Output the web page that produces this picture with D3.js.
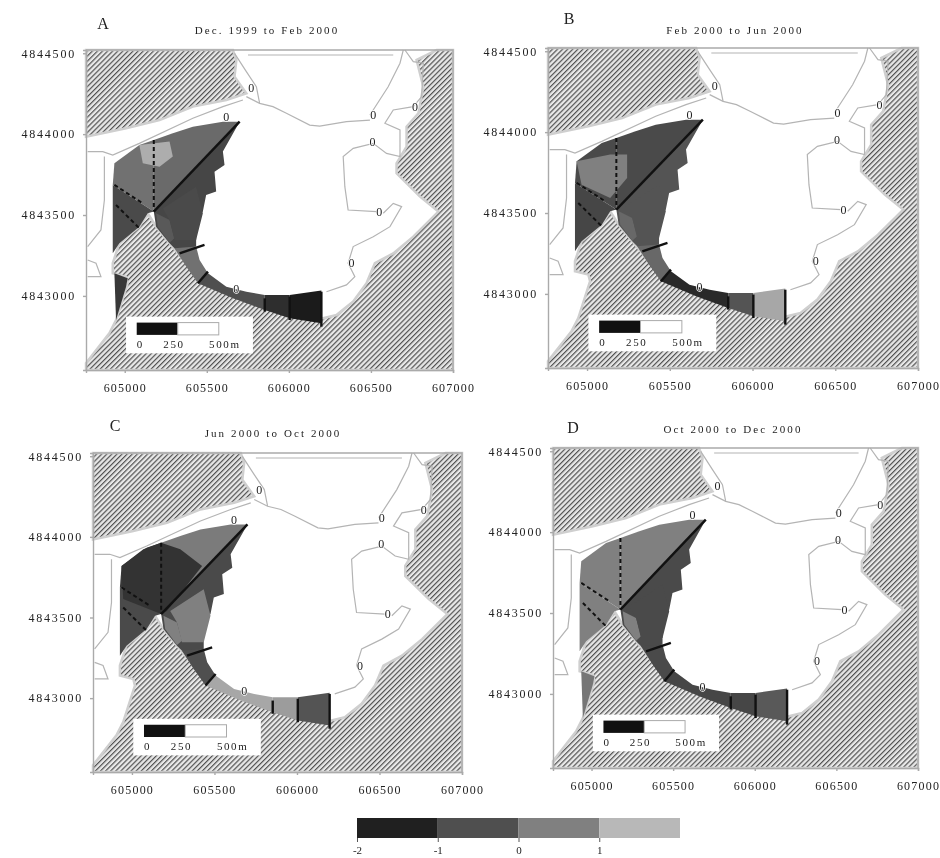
<!DOCTYPE html>
<html>
<head>
<meta charset="utf-8">
<script src="https://d3js.org/d3.v7.min.js"></script>
<style>
  body { margin: 0; background: #fff; }
  svg { display: block; filter: blur(0.6px); }
  text { font-family: "Liberation Serif", serif; fill: #222; }
</style>
</head>
<body>
<div id="chart"></div>
<script>
// UTM easting / northing
var eastingDomain = [604764, 607000];
var northingDomain = [4842542, 4844520];
var xTicks = [605000, 605500, 606000, 606500, 607000];
var yTicks = [4844500, 4844000, 4843500, 4843000];

var panelLetters = ["A", "B", "C", "D"];
var panelTitles = ["Dec. 1999 to Feb 2000", "Feb 2000 to Jun 2000", "Jun 2000 to Oct 2000", "Oct 2000 to Dec 2000"];

// land
var landNorth = [[604764,4844520],[605659,4844520],[605680,4844458],[605669,4844355],[605741,4844252],[605619,4844211],[605415,4844170],[605212,4844087],[605008,4844036],[604764,4843984]];
var landMain = [[607000,4844520],[607000,4842542],[604764,4842542],[604764,4842584],[604906,4842769],[604947,4842851],[605018,4843078],[605008,4843119],[604927,4843140],[604927,4843202],[604967,4843325],[605089,4843428],[605140,4843511],[605191,4843428],[605273,4843325],[605374,4843202],[605496,4843078],[605659,4842996],[605863,4842923],[606005,4842872],[606209,4842862],[606290,4842882],[606392,4842965],[606473,4843078],[606524,4843202],[606636,4843263],[606758,4843366],[606911,4843521],[606799,4843614],[606656,4843758],[606656,4843820],[606717,4843923],[606717,4844046],[606789,4844129],[606819,4844293],[606778,4844458],[606901,4844520]];

// rate-of-change cells
var north = [[605177,4843521],[605177,4843964],[605293,4844005],[605415,4844046],[605598,4844077],[605700,4844077]];
var west = [[605177,4843521],[605177,4843964],[605089,4843933],[604937,4843820],[604927,4843686]];
var southwest = [[604927,4843686],[605177,4843521],[605140,4843511],[605089,4843428],[604967,4843325],[604927,4843263]];
var east = [[605177,4843521],[605700,4844077],[605598,4843892],[605608,4843809],[605547,4843768],[605557,4843645],[605496,4843624],[605476,4843521],[605435,4843480],[605435,4843305],[605323,4843274],[605273,4843325],[605191,4843428]];
var eastWedge = [[605191,4843511],[605273,4843469],[605303,4843356],[605273,4843329],[605201,4843428]];
var eastMid = [[605232,4843541],[605435,4843675],[605476,4843511],[605435,4843346],[605303,4843346],[605273,4843469]];
var arc1 = [[605303,4843294],[605435,4843305],[605456,4843222],[605507,4843140],[605446,4843078],[605374,4843181]];
var arc2 = [[605446,4843078],[605507,4843140],[605619,4843057],[605741,4843026],[605853,4843006],[605853,4842913],[605659,4842985]];
var arc3 = [[605853,4843006],[606005,4843006],[606005,4842862],[605853,4842913]];
var arc4 = [[606005,4843006],[606198,4843033],[606198,4842831],[606005,4842862]];
var isolated = [[604937,4843140],[605018,4843109],[605008,4843057],[604947,4842851]];
var blobA = [[605089,4843933],[605273,4843954],[605293,4843861],[605212,4843799],[605110,4843820]];
var blobB = [[604937,4843820],[605140,4843861],[605242,4843861],[605242,4843717],[605140,4843593],[604967,4843675]];
var blobC = [[605177,4843964],[605293,4843923],[605425,4843820],[605212,4843541],[605177,4843521],[604947,4843614],[604937,4843820],[605069,4843923]];
var cells = [north, west, southwest, east, eastWedge, eastMid, arc1, arc2, arc3, arc4, isolated, blobA, blobB, blobC];

// value of each cell in each period, same order as cells
var valuesA = [0.05, 0.2, -0.6, -0.7, -0.3, -0.6, 0.2, -0.5, -1.2, -1.6, -1, 1.3, null, null];
var valuesB = [-0.6, -0.6, -0.7, -0.4, 0, -0.4, 0, -1.3, -0.4, 1.2, null, null, 0.5, null];
var valuesC = [0.4, -1, -0.6, -0.6, 0.5, 0.5, -0.5, 1.2, 1, -0.4, null, null, null, -1.1];
var valuesD = [0.5, 0.5, 0.5, -0.6, 0.5, -0.6, -0.6, -0.7, -0.7, -0.3, 0.3, null, null, null];

// depth contours
var contours = [
  [[605741,4844232],[605822,4844190],[605903,4844170],[605985,4844129],[606127,4844056],[606188,4844050],[606351,4844077],[606494,4844087]],
  [[606494,4844118],[606605,4844293],[606677,4844438],[606697,4844520]],
  [[606707,4844520],[606758,4844448],[606819,4844438],[606809,4844232],[606758,4844170],[606636,4844149],[606585,4844067],[606677,4844026],[606677,4843861],[606595,4843881],[606514,4843943],[606392,4843912],[606331,4843861],[606341,4843675],[606361,4843531],[606534,4843521]],
  [[606575,4843511],[606636,4843572],[606687,4843552],[606616,4843428],[606514,4843366],[606392,4843305],[606361,4843202],[606402,4843119],[606351,4843068],[606229,4843026]],
  [[604774,4843892],[604866,4843892],[604927,4843871],[605089,4843943],[605415,4844098],[605598,4844170],[605720,4844211]],
  [[604876,4843861],[604876,4843593],[604855,4843408],[604774,4843305]],
  [[604774,4843222],[604825,4843202],[604855,4843119],[604774,4843119]],
  [[605669,4844499],[605741,4844386],[605802,4844293],[605822,4844190]],
  [[605751,4844489],[606636,4844489]]
];
var contourLabelE = [605771, 606514, 606510, 606550, 606382, 606768, 605619, 605680];
var contourLabelN = [4844289, 4844118, 4843954, 4843521, 4843202, 4844170, 4844108, 4843047];

// transects
var solidTransects = [
  [[605177,4843521],[605700,4844077]],
  [[605334,4843263],[605486,4843315]],
  [[605446,4843078],[605507,4843150]],
  [[605853,4842985],[605853,4842903]],
  [[606005,4842996],[606005,4842851]],
  [[606198,4843026],[606198,4842810]]
];
var dashedTransects = [
  [[605177,4843964],[605177,4843521]],
  [[604937,4843686],[605110,4843572]],
  [[604947,4843562],[605089,4843418]]
];

// scale bar
var scaleBarEast = [605073, 605323, 605573];
var scaleBarLabels = ["0", "250", "500m"];
var scaleLabelEast = [605073, 605300, 605610];
var scaleBoxE = [605008, 605781];
var scaleBoxN = [4842872, 4842645];
var scaleBarN = [4842835, 4842759];
var scaleLabelN = 4842680;

// colour bar
var legendEdges = [-2, -1, 0, 1, 2];
var legendMids = [-1.5, -0.5, 0.5, 1.5];
var legendTicks = [-2, -1, 0, 1];

// frames of the four maps on the page
var frames = [
  {l: 86, r: 453, t: 50, b: 370, tx: 267, ty: 34, lx: 103, ly: 29},
  {l: 548, r: 918, t: 48, b: 368, tx: 735, ty: 34, lx: 569, ly: 24},
  {l: 93, r: 462, t: 453, b: 772, tx: 273, ty: 437, lx: 115, ly: 431},
  {l: 553, r: 918, t: 448, b: 768, tx: 733, ty: 433, lx: 573, ly: 433}
];
var panelValues = [valuesA, valuesB, valuesC, valuesD];

var svg = d3.select("#chart").append("svg")
    .attr("width", 940)
    .attr("height", 858);

var color = d3.scaleLinear()
    .domain(legendMids)
    .range(["#202020", "#4f4f4f", "#808080", "#b8b8b8"]);

// hatching for land
var pattern = svg.append("defs").append("pattern")
    .attr("id", "hatch")
    .attr("width", 3.6)
    .attr("height", 3.6)
    .attr("patternUnits", "userSpaceOnUse")
    .attr("patternTransform", "rotate(45)");
pattern.append("rect").attr("width", 3.6).attr("height", 3.6).attr("fill", "#e8e8e8");
pattern.append("rect").attr("width", 1.2).attr("height", 3.6).attr("fill", "#505050");

frames.forEach(function (f, i) {
  var x = d3.scaleLinear().domain(eastingDomain).range([f.l, f.r]);
  var y = d3.scaleLinear().domain(northingDomain).range([f.b, f.t]);
  var line = d3.line().x(function (d) { return x(d[0]); }).y(function (d) { return y(d[1]); });
  var g = svg.append("g");

  // land
  g.selectAll("path.land")
    .data([landNorth, landMain])
    .enter().append("path")
      .attr("class", "land")
      .attr("d", function (d) { return line(d) + "Z"; })
      .attr("fill", "url(#hatch)")
      .attr("stroke", "#cfcfcf")
      .attr("stroke-width", 2.5);

  // contours
  g.selectAll("path.contour")
    .data(contours)
    .enter().append("path")
      .attr("class", "contour")
      .attr("d", line)
      .attr("fill", "none")
      .attr("stroke", "#b4b4b4")
      .attr("stroke-width", 1.2);

  // cells
  var vals = panelValues[i];
  g.selectAll("path.cell")
    .data(cells)
    .enter().filter(function (d, j) { return vals[j] !== null; }).append("path")
      .attr("class", "cell")
      .attr("d", function (d) { return line(d) + "Z"; })
      .attr("fill", function (d) { return color(vals[cells.indexOf(d)]); });

  // transects
  g.selectAll("path.solid")
    .data(solidTransects)
    .enter().append("path")
      .attr("class", "solid")
      .attr("d", line)
      .attr("stroke", "#111")
      .attr("stroke-width", 2.4);
  g.selectAll("path.dashed")
    .data(dashedTransects)
    .enter().append("path")
      .attr("class", "dashed")
      .attr("d", line)
      .attr("stroke", "#111")
      .attr("stroke-width", 2)
      .attr("stroke-dasharray", "4,3");

  // zero labels on contours
  g.selectAll("text.zero")
    .data(contourLabelE)
    .enter().append("text")
      .attr("class", "zero")
      .attr("x", function (d) { return x(d); })
      .attr("y", function (d, j) { return y(contourLabelN[j]); })
      .attr("dy", "0.35em")
      .attr("text-anchor", "middle")
      .style("font-size", "12px")
      .style("paint-order", "stroke")
      .style("stroke", "#fff")
      .style("stroke-width", "1.5px")
      .text("0");

  // scale bar
  g.append("rect")
    .attr("x", x(scaleBoxE[0]))
    .attr("y", y(scaleBoxN[0]))
    .attr("width", x(scaleBoxE[1]) - x(scaleBoxE[0]))
    .attr("height", y(scaleBoxN[1]) - y(scaleBoxN[0]))
    .attr("fill", "#fff");
  g.append("rect")
    .attr("x", x(scaleBarEast[0]))
    .attr("y", y(scaleBarN[0]))
    .attr("width", x(scaleBarEast[1]) - x(scaleBarEast[0]))
    .attr("height", y(scaleBarN[1]) - y(scaleBarN[0]))
    .attr("fill", "#111");
  g.append("rect")
    .attr("x", x(scaleBarEast[1]))
    .attr("y", y(scaleBarN[0]))
    .attr("width", x(scaleBarEast[2]) - x(scaleBarEast[1]))
    .attr("height", y(scaleBarN[1]) - y(scaleBarN[0]))
    .attr("fill", "#fff")
    .attr("stroke", "#aaa");
  g.selectAll("text.scale")
    .data(scaleBarLabels)
    .enter().append("text")
      .attr("class", "scale")
      .attr("x", function (d, j) { return x(scaleLabelEast[j]); })
      .attr("y", y(scaleLabelN))
      .attr("text-anchor", function (d, j) { return j === 0 ? "start" : "middle"; })
      .style("font-size", "11px")
      .style("letter-spacing", "1.6px")
      .text(function (d) { return d; });

  // axes
  var xAxis = g.append("g")
      .attr("transform", "translate(0," + f.b + ")")
      .call(d3.axisBottom(x).tickValues(xTicks).tickFormat(d3.format("d")).tickSize(3).tickPadding(10));
  var yAxis = g.append("g")
      .attr("transform", "translate(" + f.l + ",0)")
      .call(d3.axisLeft(y).tickValues(yTicks).tickFormat(d3.format("d")).tickSize(3).tickPadding(7));
  [xAxis, yAxis].forEach(function (a) {
    a.selectAll("path, line").attr("stroke", "#aaa").attr("stroke-width", 1.4);
    a.selectAll("text")
      .style("font-family", '"Liberation Serif", serif')
      .style("font-size", "12px")
      .attr("fill", "#222");
  });
  xAxis.selectAll("text").style("letter-spacing", "1.2px");
  yAxis.selectAll("text").style("letter-spacing", "1.8px");
  // right and top edge of frame
  g.append("path")
    .attr("d", line([[eastingDomain[0], northingDomain[1]], [eastingDomain[1], northingDomain[1]], [eastingDomain[1], northingDomain[0]]]))
    .attr("fill", "none")
    .attr("stroke", "#aaa")
    .attr("stroke-width", 1.4);

  // titles
  g.append("text")
    .attr("x", f.tx)
    .attr("y", f.ty)
    .attr("text-anchor", "middle")
    .style("font-size", "11px")
    .style("letter-spacing", "2.1px")
    .text(panelTitles[i]);
  g.append("text")
    .attr("x", f.lx)
    .attr("y", f.ly)
    .attr("text-anchor", "middle")
    .style("font-size", "16px")
    .text(panelLetters[i]);
});

// colour bar at the bottom
var legendX = d3.scaleLinear().domain([-2, 2]).range([357, 680]);
svg.append("g").selectAll("rect")
    .data(legendMids)
    .enter().append("rect")
      .attr("x", function (d, i) { return legendX(legendEdges[i]); })
      .attr("y", 818)
      .attr("width", function (d, i) { return legendX(legendEdges[i + 1]) - legendX(legendEdges[i]); })
      .attr("height", 20)
      .attr("fill", function (d) { return color(d); });
var legendAxis = svg.append("g")
    .attr("transform", "translate(0,838)")
    .call(d3.axisBottom(legendX).tickValues(legendTicks).tickFormat(function (d) { return String(d); }).tickSize(4).tickPadding(4));
legendAxis.select(".domain").remove();
legendAxis.selectAll("line").attr("stroke", "#555");
legendAxis.selectAll("text")
    .style("font-family", '"Liberation Serif", serif')
    .style("font-size", "11px")
    .attr("fill", "#222");
</script>
</body>
</html>
